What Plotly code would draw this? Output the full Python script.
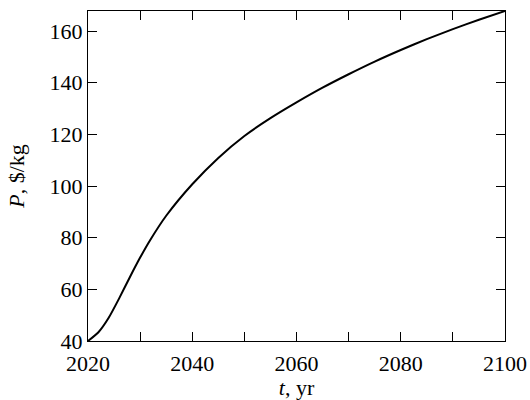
import plotly.graph_objects as go

years = [2020, 2022, 2024, 2026, 2028, 2030, 2032, 2035, 2040,
         2045, 2050, 2055, 2060, 2065, 2070, 2075, 2080, 2085, 2090, 2095, 2100]
price = [40.0, 43.4, 49.1, 56.6, 64.6, 72.3, 79.3, 88.5, 100.7,
         110.9, 119.4, 126.3, 132.4, 138.1, 143.3, 148.2, 152.7, 156.9, 160.8, 164.4, 167.8]

x_tickvals = [2020, 2030, 2040, 2050, 2060, 2070, 2080, 2090, 2100]
x_ticktext = ["2020", "", "2040", "", "2060", "", "2080", "", "2100"]
y_tickvals = [40, 60, 80, 100, 120, 140, 160]
y_ticktext = ["40", "60", "80", "100", "120", "140", "160"]

font_family = "Liberation Serif, Times New Roman, serif"

fig = go.Figure()
fig.add_trace(go.Scatter(
    x=years, y=price, mode="lines",
    line=dict(color="black", width=2, shape="spline", smoothing=0.6),
    showlegend=False, hoverinfo="skip",
))

axis_common = dict(
    showgrid=False, zeroline=False, automargin=False,
    showline=True, linecolor="black", linewidth=1.3,
    mirror="ticks", ticks="inside", ticklen=9, tickwidth=1.1, tickcolor="black",
    tickfont=dict(family=font_family, size=22, color="black"),
)

fig.update_layout(
    width=530, height=400,
    margin=dict(l=88, r=25, t=11, b=59),
    paper_bgcolor="white", plot_bgcolor="white",
    xaxis=dict(
        range=[2020, 2100], tickmode="array",
        tickvals=x_tickvals, ticktext=x_ticktext, ticklabelstandoff=2,
        title=dict(text="<i>t</i>, yr", font=dict(family=font_family, size=22, color="black"), standoff=0),
        **axis_common,
    ),
    yaxis=dict(
        range=[40, 167.8], tickmode="array",
        tickvals=y_tickvals, ticktext=y_ticktext, ticklabelstandoff=0,
        title=dict(text="<i>P</i>, $/kg", font=dict(family=font_family, size=22, color="black"), standoff=18),
        **axis_common,
    ),
)

fig.write_html("out.html", config={"displayModeBar": False},
               post_script="document.body.style.margin='0';")
